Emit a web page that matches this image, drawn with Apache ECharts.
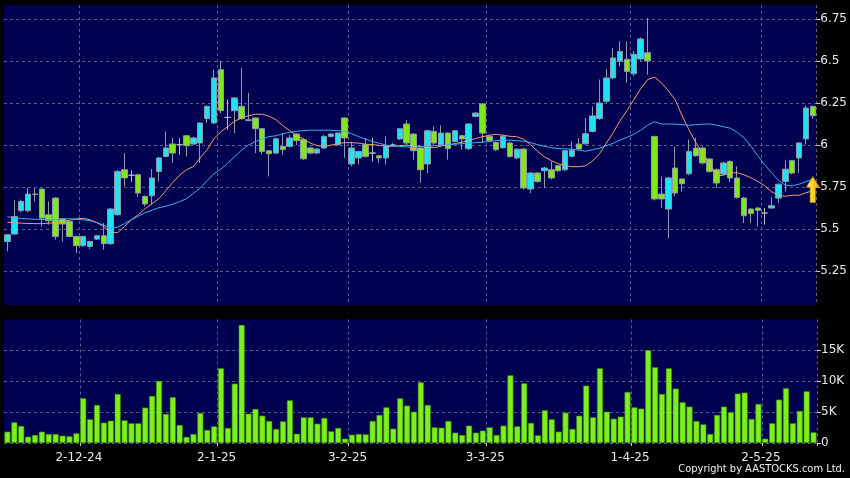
<!DOCTYPE html>
<html><head><meta charset="utf-8">
<script src="https://cdn.jsdelivr.net/npm/echarts@6/dist/echarts.min.js"></script>
<style>html,body{margin:0;padding:0;background:#000;}#c{width:850px;height:478px;}</style>
</head><body><div id="c"></div>
<script>
// ---- data ----
const dates = [
"18-11-24","19-11-24","20-11-24","21-11-24","22-11-24","25-11-24","26-11-24","27-11-24","28-11-24","29-11-24",
"2-12-24","3-12-24","4-12-24","5-12-24","6-12-24","9-12-24","10-12-24","11-12-24","12-12-24","13-12-24",
"16-12-24","17-12-24","18-12-24","19-12-24","20-12-24","23-12-24","24-12-24","27-12-24","30-12-24","31-12-24",
"2-1-25","3-1-25","6-1-25","7-1-25","8-1-25","9-1-25","10-1-25","13-1-25","14-1-25","15-1-25",
"16-1-25","17-1-25","20-1-25","21-1-25","22-1-25","23-1-25","24-1-25","27-1-25","28-1-25",
"3-2-25","4-2-25","5-2-25","6-2-25","7-2-25","10-2-25","11-2-25","12-2-25","13-2-25","14-2-25",
"17-2-25","18-2-25","19-2-25","20-2-25","21-2-25","24-2-25","25-2-25","26-2-25","27-2-25","28-2-25",
"3-3-25","4-3-25","5-3-25","6-3-25","7-3-25","10-3-25","11-3-25","12-3-25","13-3-25","14-3-25",
"17-3-25","18-3-25","19-3-25","20-3-25","21-3-25","24-3-25","25-3-25","26-3-25","27-3-25","28-3-25","31-3-25",
"1-4-25","2-4-25","3-4-25","7-4-25","8-4-25","9-4-25","10-4-25","11-4-25","14-4-25","15-4-25",
"16-4-25","17-4-25","22-4-25","23-4-25","24-4-25","25-4-25","28-4-25","29-4-25","30-4-25",
"2-5-25","6-5-25","7-5-25","8-5-25","9-5-25","12-5-25","13-5-25","14-5-25","15-5-25"];

const opens = [5.426,5.470,5.609,5.609,5.705,5.738,5.585,5.684,5.561,5.545,
5.456,5.401,5.396,5.440,5.460,5.413,5.585,5.853,5.820,5.823,
5.694,5.698,5.843,5.932,6.006,6.002,6.055,6.006,6.012,6.157,
6.131,6.448,6.164,6.204,6.230,6.146,6.161,6.097,5.966,5.952,
5.992,5.992,6.065,6.032,5.982,5.952,5.982,6.051,6.002,
6.161,5.887,5.923,6.002,5.952,5.936,5.923,6.000,6.036,6.125,
6.065,5.982,5.887,6.081,6.002,6.071,6.021,6.055,5.978,6.170,
6.244,6.051,6.015,5.984,6.012,5.923,5.976,5.738,5.833,5.847,
5.853,5.877,5.853,5.933,6.006,6.007,6.081,6.157,6.260,6.399,6.499,
6.510,6.424,6.512,6.549,6.051,5.708,5.619,5.863,5.798,5.829,
5.982,5.982,5.917,5.853,5.827,5.902,5.804,5.684,5.619,
5.625,5.595,5.625,5.684,5.783,5.907,5.923,6.036,6.230];
const closes = [5.466,5.575,5.664,5.708,5.708,5.565,5.549,5.456,5.530,5.456,
5.401,5.456,5.426,5.460,5.413,5.619,5.843,5.804,5.820,5.714,
5.649,5.804,5.923,5.982,5.952,6.002,5.996,6.042,6.131,6.230,
6.399,6.204,6.164,6.280,6.157,6.150,6.097,5.962,5.948,6.037,
5.972,6.042,6.026,5.918,5.952,5.976,6.051,6.065,6.071,
6.042,5.982,5.962,5.932,5.952,5.923,5.996,6.000,6.097,6.012,
5.966,5.853,6.085,6.012,6.071,5.978,6.085,6.036,6.125,6.190,
6.071,6.026,5.972,6.052,5.932,5.975,5.744,5.833,5.783,5.863,
5.804,5.847,5.966,5.969,5.976,6.067,6.173,6.250,6.399,6.518,6.557,
6.438,6.540,6.631,6.500,5.679,5.679,5.804,5.714,5.770,5.962,
5.936,5.893,5.843,5.774,5.893,5.804,5.688,5.579,5.592,
5.611,5.595,5.639,5.767,5.856,5.833,6.012,6.220,6.174];
const lows = [5.367,5.465,5.600,5.600,5.664,5.515,5.526,5.436,5.426,5.450,
5.357,5.395,5.381,5.435,5.377,5.405,5.580,5.754,5.780,5.690,
5.635,5.645,5.783,5.925,5.893,5.942,5.932,6.000,5.893,6.131,
6.125,6.190,6.091,6.071,6.150,6.140,5.952,5.945,5.813,5.945,
5.942,5.985,6.000,5.910,5.945,5.945,5.975,6.045,5.995,
5.924,5.873,5.883,5.925,5.902,5.893,5.883,5.990,6.030,6.000,
5.913,5.774,5.833,6.000,5.995,5.913,6.015,5.972,5.970,6.165,
6.012,6.020,5.965,5.978,5.925,5.915,5.735,5.714,5.775,5.744,
5.795,5.840,5.845,5.925,5.970,6.000,6.075,6.150,6.250,6.390,6.468,
6.369,6.410,6.500,6.418,5.670,5.625,5.446,5.694,5.724,5.820,
5.930,5.885,5.835,5.744,5.820,5.780,5.680,5.536,5.536,
5.515,5.526,5.620,5.655,5.722,5.825,5.833,6.002,6.155];
const highs = [5.470,5.674,5.675,5.744,5.744,5.740,5.664,5.690,5.565,5.550,
5.460,5.460,5.430,5.465,5.536,5.625,5.850,5.952,5.850,5.830,
5.700,5.857,5.930,6.081,6.042,6.042,6.060,6.050,6.135,6.235,
6.448,6.502,6.270,6.285,6.458,6.310,6.165,6.100,5.970,6.045,
6.071,6.060,6.070,6.040,5.990,5.980,6.060,6.070,6.075,
6.165,6.021,5.965,6.042,6.042,5.940,6.051,6.010,6.100,6.150,
6.070,5.990,6.090,6.110,6.117,6.075,6.090,6.060,6.130,6.195,
6.250,6.060,6.020,6.060,6.020,5.980,5.980,5.840,5.840,5.870,
5.902,5.880,5.970,6.021,6.042,6.161,6.230,6.389,6.452,6.577,6.617,
6.617,6.560,6.640,6.756,6.055,5.813,5.810,5.992,5.800,6.032,
6.043,5.990,5.920,5.860,5.900,5.910,5.873,5.690,5.625,
5.630,5.625,5.690,5.770,5.909,5.910,6.015,6.235,6.235];

const maShort = [5.540,5.538,5.535,5.533,5.532,5.532,5.535,5.538,5.544,5.553,
5.561,5.564,5.555,5.538,5.514,5.481,5.478,5.514,5.555,5.585,
5.621,5.651,5.680,5.728,5.776,5.820,5.853,5.871,5.924,5.972,
6.037,6.079,6.109,6.142,6.160,6.174,6.183,6.183,6.171,6.151,
6.115,6.085,6.058,6.035,6.011,5.996,5.993,5.999,6.008,
6.014,6.014,6.011,6.005,6.002,5.998,5.993,5.992,5.996,5.999,
5.993,5.993,5.987,5.984,5.993,6.002,6.008,6.017,6.026,6.038,
6.049,6.058,6.064,6.058,6.052,6.049,6.035,6.002,5.963,5.930,
5.907,5.889,5.877,5.871,5.871,5.877,5.904,5.948,6.011,6.073,6.145,
6.204,6.270,6.335,6.389,6.404,6.371,6.323,6.270,6.175,6.091,
6.014,5.954,5.892,5.817,5.820,5.833,5.835,5.823,5.805,
5.784,5.758,5.722,5.701,5.695,5.701,5.701,5.716,5.728];
const maLong = [5.573,5.567,5.563,5.560,5.558,5.557,5.555,5.555,5.558,5.561,
5.558,5.555,5.550,5.538,5.523,5.505,5.511,5.532,5.555,5.576,
5.597,5.612,5.627,5.636,5.648,5.663,5.680,5.713,5.743,5.788,
5.829,5.856,5.892,5.930,5.969,5.999,6.020,6.035,6.050,6.055,
6.067,6.076,6.082,6.085,6.088,6.088,6.088,6.088,6.085,
6.082,6.067,6.050,6.035,6.021,6.011,5.999,5.995,5.992,5.988,
5.986,5.990,5.993,5.996,5.998,6.001,6.005,6.008,6.011,6.014,
6.017,6.020,6.026,6.029,6.029,6.026,6.023,6.014,6.002,5.993,
5.984,5.979,5.977,5.975,5.969,5.963,5.972,5.981,5.996,6.011,6.029,
6.046,6.064,6.088,6.118,6.139,6.125,6.125,6.124,6.121,6.118,
6.121,6.124,6.125,6.118,6.109,6.100,6.076,6.043,5.993,
5.936,5.883,5.835,5.790,5.761,5.758,5.767,5.782,5.796];

const volumes = [1830,3330,2740,1020,1290,1830,1450,1450,1180,1080,
1560,7200,3820,6130,3280,3600,7900,3660,3170,3170,
5700,7580,10000,4680,7370,2900,970,1450,4840,2100,
2690,12040,2420,9570,19030,4730,5480,4410,3550,2260,
3490,6880,1500,4140,4140,3120,4030,1880,2420,
700,1340,1450,1400,3550,4520,5750,2310,7200,6020,
5050,9780,6130,2530,2470,3550,1670,1290,2800,1670,
1990,2530,1290,2800,10900,2690,9620,3230,1240,5270,
3820,1830,4890,2260,4410,9250,4140,12040,5050,3920,4250,
8230,5750,5540,14950,12200,7900,12040,8760,6560,5860,
3550,3010,1450,4520,5860,4950,7960,8120,3870,
6290,700,3170,6990,8820,3170,5160,8330,1720];

const priceTicks = [5.25, 5.5, 5.75, 6, 6.25, 6.5, 6.75];
const volumeTicks = [0, 5000, 10000, 15000];
const monthStartIdx = [10, 30, 49, 69, 90, 109];
const arrowMark = [117, 5.735];

// ---- chart ----
const chart = echarts.init(document.getElementById('c'));
const UP = '#1ee3f2', DOWN = '#7ee81c';
const candleData = dates.map((d, i) => {
  const v = [opens[i], closes[i], lows[i], highs[i]];
  if (opens[i] === closes[i]) return { value: v, itemStyle: { color: '#b8b8c8', color0: '#b8b8c8', borderColor: '#b8b8c8', borderColor0: '#b8b8c8' } };
  return v;
});
const isBoundary = (i) => monthStartIdx.indexOf(i - 1) >= 0;
const isLabel = (i) => monthStartIdx.indexOf(i) >= 0;
const gridLine = { show: true, lineStyle: { color: '#5c5c8c', type: [3, 3], width: 1 } };
const txt = { color: '#e8e8e8', fontFamily: 'DejaVu Sans', fontSize: 12 };

chart.setOption({
  backgroundColor: '#000',
  animation: false,
  title: { text: 'Copyright by AASTOCKS.com Ltd.', right: 0, bottom: -2, textStyle: { color: '#f0f0f0', fontSize: 11, fontWeight: 'normal', fontFamily: 'DejaVu Sans Condensed' } },
  grid: [
    { left: 4, right: 33, top: 5, height: 300, show: true, backgroundColor: '#000050', borderWidth: 0 },
    { left: 4, right: 33, top: 319.5, height: 123.5, show: true, backgroundColor: '#000050', borderWidth: 0 }
  ],
  xAxis: [
    { type: 'category', gridIndex: 0, data: dates, boundaryGap: true,
      axisLine: { show: false }, axisTick: { show: false }, axisLabel: { show: false },
      splitLine: Object.assign({ interval: (i) => isBoundary(i) }, gridLine) },
    { type: 'category', gridIndex: 1, data: dates, boundaryGap: true,
      axisLine: { show: false },
      axisTick: { show: true, interval: (i) => isBoundary(i), length: 3, lineStyle: { color: '#cccccc' } },
      axisLabel: Object.assign({ interval: (i) => isLabel(i), margin: 9, padding: [0, 0, 0, 5] }, txt),
      splitLine: Object.assign({ interval: (i) => isBoundary(i) }, gridLine) }
  ],
  yAxis: [
    { type: 'value', gridIndex: 0, position: 'right', min: 5.048, max: 6.833, scale: true,
      axisLine: { show: false },
      axisTick: { show: true, length: 4, customValues: priceTicks, lineStyle: { color: '#cccccc' } },
      axisLabel: Object.assign({ customValues: priceTicks, margin: 4, formatter: (v) => String(v) }, txt),
      splitLine: gridLine },
    { type: 'value', gridIndex: 1, position: 'right', min: 0, max: 19900,
      axisLine: { show: false },
      axisTick: { show: true, length: 4, customValues: volumeTicks, lineStyle: { color: '#cccccc' } },
      axisLabel: Object.assign({ customValues: volumeTicks, margin: 4, formatter: (v) => v === 0 ? '0' : (v / 1000) + 'K' }, txt),
      splitLine: gridLine }
  ],
  series: [
    { type: 'candlestick', xAxisIndex: 0, yAxisIndex: 0, data: candleData, barWidth: 6,
      itemStyle: { color: UP, color0: DOWN, borderColor: '#8f9aa6', borderColor0: '#8f9aa6', borderWidth: 1 } },
    { type: 'line', xAxisIndex: 0, yAxisIndex: 0, data: maShort, symbol: 'none', smooth: false,
      lineStyle: { color: '#f0a068', width: 1 } },
    { type: 'line', xAxisIndex: 0, yAxisIndex: 0, data: maLong, symbol: 'none', smooth: false,
      lineStyle: { color: '#3ab0f0', width: 1 } },
    { type: 'scatter', xAxisIndex: 0, yAxisIndex: 0, data: [arrowMark], symbolSize: [13, 26], z: 5,
      symbol: 'path://M6,0 L12,9 L8.5,9 L8.5,22 L3.5,22 L3.5,9 L0,9 Z',
      itemStyle: { opacity: 1, color: new echarts.graphic.LinearGradient(0, 0, 1, 0, [{ offset: 0, color: '#fff48a' }, { offset: 0.45, color: '#ffd424' }, { offset: 1, color: '#f2a400' }]), borderColor: '#c08400', borderWidth: 0.6 } },
    { type: 'bar', xAxisIndex: 1, yAxisIndex: 1, data: volumes, barWidth: 6,
      itemStyle: { color: '#7cf01c', borderColor: '#3f8a0a', borderWidth: 0.6 } }
  ]
});
</script></body></html>
